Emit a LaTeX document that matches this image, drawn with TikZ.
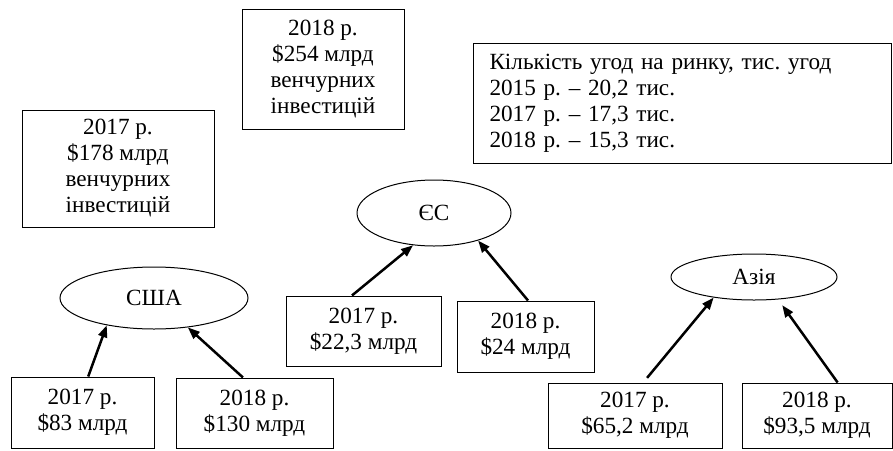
\documentclass[tikz,border=0pt]{standalone}
\usepackage{fontspec}
\setmainfont{Liberation Serif}
\frenchspacing
\usetikzlibrary{arrows.meta,shapes.geometric}
\tikzset{
  infobox/.style = {draw=black, line width=0.5pt, align=center, inner sep=0pt,
                    font=\fontsize{11.6}{13}\selectfont},
  region/.style  = {draw=black, line width=0.5pt, ellipse, inner sep=0pt,
                    font=\fontsize{11.6}{13}\selectfont},
  flowar/.style  = {-{Triangle[length=6pt,width=4.5pt]}, line width=1.25pt}
}
\begin{document}
\begin{tikzpicture}[x=0.5pt,y=-0.5pt]
  \useasboundingbox (0,0) rectangle (893,450);
  % totals and deal counts
  \node[infobox, minimum width=96pt, minimum height=58.5pt] (inv17) at (118,168.5)
        {2017 р.\\\$178 млрд\\венчурних\\інвестицій};
  \node[infobox, minimum width=81pt, minimum height=60pt] (inv18) at (323,69)
        {2018 р.\\\$254 млрд\\венчурних\\інвестицій};
  \node[infobox, align=left, text width=193pt, inner xsep=8pt,
        minimum height=60pt] (deals) at (682.5,103)
        {Кількість угод на ринку, тис. угод\\2015 р. -- 20,2 тис.\\
         2017 р. -- 17,3 тис.\\2018 р. -- 15,3 тис.};
  % regions
  \node[region, minimum width=94pt, minimum height=31pt] (usa)  at (154,298) {США};
  \node[region, minimum width=77pt, minimum height=33pt] (eu)   at (434,213) {ЄС};
  \node[region, minimum width=83pt, minimum height=23pt] (asia) at (754,277) {Азія};
  % yearly amounts
  \node[infobox, minimum width=71.5pt, minimum height=35.5pt] (us17) at (82.5,412.5)
        {2017 р.\\\$83 млрд};
  \node[infobox, minimum width=78.5pt, minimum height=35pt] (us18) at (254.5,413)
        {2018 р.\\\$130 млрд};
  \node[infobox, minimum width=77.5pt, minimum height=35pt] (eu17) at (363.5,331)
        {2017 р.\\\$22,3 млрд};
  \node[infobox, minimum width=68.5pt, minimum height=35.5pt] (eu18) at (525.5,336.5)
        {2018 р.\\\$24 млрд};
  \node[infobox, minimum width=87pt, minimum height=32.5pt] (as17) at (635,415.5)
        {2017 р.\\\$65,2 млрд};
  \node[infobox, minimum width=75pt, minimum height=32.5pt] (as18) at (817,415.5)
        {2018 р.\\\$93,5 млрд};
  % arrows
  \draw[flowar] (us17.81) -- (usa.-150);
  \draw[flowar] (us18.108) -- (usa.-41);
  \draw[flowar] (eu17.108) -- (eu.-123);
  \draw[flowar] (eu18.86) -- (eu.-32);
  \draw[flowar, shorten <=3pt] (as17.76) -- (asia.-153);
  \draw[flowar, shorten >=3.5pt] (as18.58) -- (asia.-43);
\end{tikzpicture}
\end{document}
